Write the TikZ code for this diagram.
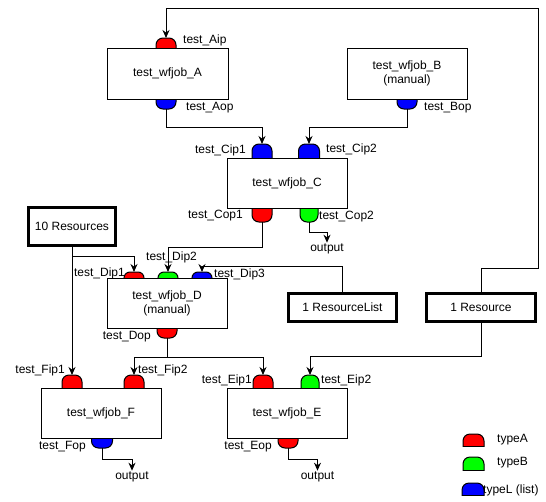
\documentclass[tikz,border=0pt]{standalone}
\usepackage{fontspec}
\setmainfont{Liberation Sans}
\usetikzlibrary{arrows.meta,calc}
\tikzset{
  job/.style={draw, fill=white, line width=1pt, align=center, inner sep=0pt},
  resbox/.style={draw, fill=white, line width=3pt, align=center, inner sep=0pt},
  arr/.style={draw, line width=1pt, -{Stealth[length=8pt,width=7pt]}},
  lbl/.style={inner sep=1pt, font=\fontsize{12}{14}\selectfont},
  portline/.style={draw, line width=1pt},
}
% #1 name, #2 x, #3 edge y, #4 height, #5 width, #6 colour, #7 radius
\newcommand{\portup}[7]{%
  \begin{scope}
    \clip ({#2-#5/2-2},{#3-#4-2}) rectangle ({#2+#5/2+2},{#3});
    \draw[portline, fill=#6, rounded corners=#7pt] ({#2-#5/2},{#3-#4}) rectangle ({#2+#5/2},{#3+#4});
  \end{scope}
  \draw[portline] ({#2-#5/2},{#3}) -- ({#2+#5/2},{#3});
  \coordinate (#1) at (#2,{#3-#4});
}
\newcommand{\portdown}[7]{%
  \begin{scope}
    \clip ({#2-#5/2-2},{#3}) rectangle ({#2+#5/2+2},{#3+#4+2});
    \draw[portline, fill=#6, rounded corners=#7pt] ({#2-#5/2},{#3-#4}) rectangle ({#2+#5/2},{#3+#4});
  \end{scope}
  \draw[portline] ({#2-#5/2},{#3}) -- ({#2+#5/2},{#3});
  \coordinate (#1) at (#2,{#3+#4});
}
\begin{document}
\begin{tikzpicture}[x=1pt,y=-1pt,font=\fontsize{12}{14}\selectfont]
\useasboundingbox (0,0) rectangle (546,501);

% boxes
\node[job, minimum width=121pt, minimum height=51pt] (A) at (167.5,73.5) {test\_wfjob\_A};
\node[job, minimum width=120pt, minimum height=51pt] (B) at (407,73.5) {test\_wfjob\_B\\(manual)};
\node[job, minimum width=120pt, minimum height=50pt] (C) at (287,183) {test\_wfjob\_C};
\node[resbox, minimum width=87pt, minimum height=38pt] (T) at (72,226) {10 Resources};
\node[job, minimum width=120pt, minimum height=50pt] (D) at (167,303) {test\_wfjob\_D\\(manual)};
\node[resbox, minimum width=108pt, minimum height=28pt] (RL) at (342.5,307.5) {1 ResourceList};
\node[resbox, minimum width=109pt, minimum height=28pt] (R) at (481,307.5) {1 Resource};
\node[job, minimum width=120pt, minimum height=50pt] (F) at (101,413) {test\_wfjob\_F};
\node[job, minimum width=120pt, minimum height=50pt] (E) at (287,413) {test\_wfjob\_E};

% ports
\portup{Aip}{166}{48}{10}{20}{red}{7}
\portdown{Aop}{166}{99}{10}{20}{blue}{7}
\portdown{Bop}{407}{99}{10}{20}{blue}{7}
\portup{Cip1}{262}{158}{14}{20}{blue}{7}
\portup{Cip2}{309}{158}{14}{21}{blue}{7}
\portdown{Cop1}{262}{208}{14}{20}{red}{7}
\portdown{Cop2}{309}{208}{14}{18}{green}{7}
\portup{Dip1}{134}{278}{6}{20}{red}{6}
\portup{Dip2}{168}{278}{6}{20}{green}{6}
\portup{Dip3}{202}{278}{6}{20}{blue}{6}
\portdown{Dop}{167}{328}{10}{20}{red}{7}
\portup{Fip1}{72}{388}{13}{20}{red}{7}
\portup{Fip2}{134}{388}{13}{20}{red}{7}
\portdown{Fop}{102}{438}{10}{21}{blue}{7}
\portup{Eip1}{263}{388}{13}{20}{red}{7}
\portup{Eip2}{310}{388}{13}{18}{green}{7}
\portdown{Eop}{288}{438}{10}{20}{red}{7}

% legend
\portup{LA}{473.5}{446}{12}{21}{red}{7}
\portup{LB}{473.5}{470}{13}{21}{green}{7}
\portup{LL}{473}{495}{12}{22}{blue}{7}
\node[lbl, anchor=west] (lA) at (496,440) {typeA};
\node[lbl, anchor=west] (lB) at (496,463) {typeB};
\node[lbl, anchor=west] (lL) at (482,490) {typeL (list)};

% output labels
\node[lbl] (oC) at (327,249) {output};
\node[lbl] (oF) at (132,477) {output};
\node[lbl] (oE) at (317.5,477) {output};

% connectors
\draw[arr] (R.north) |- (538,268) -- (538,8) -| (Aip);
\draw[arr] (Aop) -- ++(0,18) -| (Cip1);
\draw[arr] (Bop) -- ++(0,18) -| (Cip2);
\draw[arr] (Cop1) -- ++(0,25) -| (Dip2);
\draw[arr] (Cop2) -- ++(0,10) -| (oC.north);
\draw[arr] (T.south) -- (Fip1);
\draw[arr] (T.south) ++(0,10) -| (Dip1);
\draw[arr] (RL.north) -- ++(0,-26) -| (Dip3);
\draw[arr] (Dop) -- ++(0,19) -| (Fip2);
\draw[arr] (Dop) -- ++(0,19) -| (Eip1);
\draw[arr] (R.south) -- ++(0,33) -| (Eip2);
\draw[arr] (Fop) -- ++(0,11) -| (oF.north);
\draw[arr] (Eop) -- ++(0,11) -| (oE.north);

% port labels
\node[lbl, anchor=west] (tAip) at (182,40) {test\_Aip};
\node[lbl, anchor=west] (tAop) at (185,108) {test\_Aop};
\node[lbl, anchor=west] (tBop) at (423,108) {test\_Bop};
\node[lbl, anchor=east] (tCip1) at (247,150) {test\_Cip1};
\node[lbl, anchor=west] (tCip2) at (325,149) {test\_Cip2};
\node[lbl, anchor=east] (tCop1) at (244,216) {test\_Cop1};
\node[lbl, anchor=west] (tCop2) at (318,217) {test\_Cop2};
\node[lbl, anchor=east] (tDip1) at (126,273) {test\_Dip1};
\node[lbl, anchor=west] (tDip2) at (145,257) {test\_Dip2};
\node[lbl, anchor=west] (tDip3) at (213,274) {test\_Dip3};
\node[lbl, anchor=east] (tDop) at (152,337) {test\_Dop};
\node[lbl, anchor=east] (tFip1) at (66,370) {test\_Fip1};
\node[lbl, anchor=west] (tFip2) at (137,370) {test\_Fip2};
\node[lbl, anchor=east] (tEip1) at (253,380) {test\_Eip1};
\node[lbl, anchor=west] (tEip2) at (320,380) {test\_Eip2};
\node[lbl, anchor=east] (tFop) at (87,447) {test\_Fop};
\node[lbl, anchor=east] (tEop) at (273,447) {test\_Eop};
\end{tikzpicture}
\end{document}
